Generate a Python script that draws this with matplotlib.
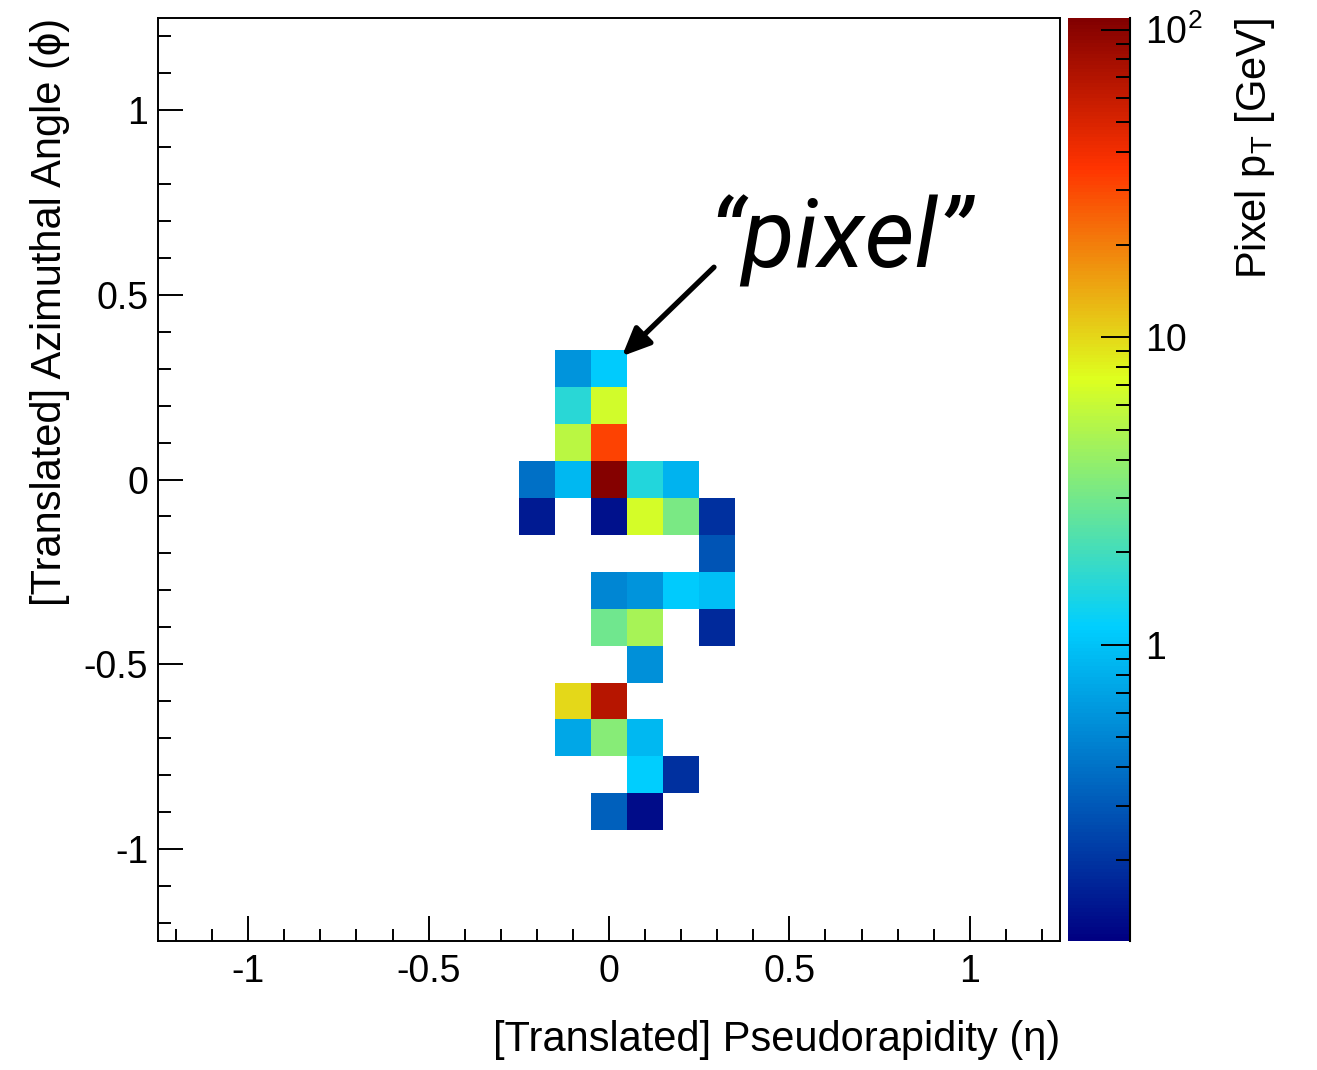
import numpy as np
import matplotlib
matplotlib.use("Agg")
import matplotlib.pyplot as plt
from matplotlib.colors import LogNorm, LinearSegmentedColormap
from matplotlib.ticker import MultipleLocator, FixedLocator, NullFormatter

plt.rcParams['font.family'] = ['Liberation Sans', 'DejaVu Sans']
plt.rcParams['mathtext.fontset'] = 'custom'
plt.rcParams['mathtext.rm'] = 'Liberation Sans'
plt.rcParams['mathtext.it'] = 'Liberation Sans:italic'

# ---- data: jet-image pixels (eta, phi centre, pT in GeV) ----
cell_eta = [-0.1, 0.0,
            -0.1, 0.0,
            -0.1, 0.0,
            -0.2, -0.1, 0.0, 0.1, 0.2,
            -0.2, 0.0, 0.1, 0.2, 0.3,
            0.3,
            0.0, 0.1, 0.2, 0.3,
            0.0, 0.1, 0.3,
            0.1,
            -0.1, 0.0,
            -0.1, 0.0, 0.1,
            0.1, 0.2,
            0.0, 0.1]
cell_phi = [0.3, 0.3,
            0.2, 0.2,
            0.1, 0.1,
            0.0, 0.0, 0.0, 0.0, 0.0,
            -0.1, -0.1, -0.1, -0.1, -0.1,
            -0.2,
            -0.3, -0.3, -0.3, -0.3,
            -0.4, -0.4, -0.4,
            -0.5,
            -0.6, -0.6,
            -0.7, -0.7, -0.7,
            -0.8, -0.8,
            -0.9, -0.9]
cell_pt = [0.59, 1.11,
           1.61, 6.6,
           5.5, 31.6,
           0.39, 0.88, 104.0, 1.51, 0.85,
           0.15, 0.133, 6.8, 3.2, 0.19,
           0.285,
           0.51, 0.59, 1.11, 0.96,
           2.95, 4.7, 0.175,
           0.56,
           9.8, 68.0,
           0.74, 3.55, 0.88,
           1.13, 0.19,
           0.325, 0.128]

bin_edges = np.round(np.arange(-1.25, 1.2501, 0.1), 3)
pt_min, pt_max = 0.109, 109.0

# ROOT-style rainbow palette
stops = [0.00, 0.34, 0.61, 0.84, 1.00]
reds = [0.00, 0.00, 0.87, 1.00, 0.51]
greens = [0.00, 0.81, 1.00, 0.20, 0.00]
blues = [0.51, 1.00, 0.12, 0.00, 0.00]
cmap = LinearSegmentedColormap.from_list(
    'root_rainbow', list(zip(stops, zip(reds, greens, blues))), N=255)

H, xe, ye = np.histogram2d(np.array(cell_eta), np.array(cell_phi),
                           bins=[bin_edges, bin_edges], weights=np.array(cell_pt))
H = np.ma.masked_where(H <= 0, H)

W, Hh = 1317, 1070
fig = plt.figure(figsize=(W / 100, Hh / 100), dpi=100)
ax = fig.add_axes([158 / W, 1 - 941 / Hh, (1060 - 158) / W, (941 - 18) / Hh])
cax = fig.add_axes([1068 / W, 1 - 941 / Hh, (1130 - 1068) / W, (941 - 18) / Hh])

mesh = ax.pcolormesh(xe, ye, H.T, cmap=cmap, norm=LogNorm(vmin=pt_min, vmax=pt_max))
ax.set_xlim(-1.25, 1.25)
ax.set_ylim(-1.25, 1.25)

fs_tick = 27
fs_title = 30
ax.xaxis.set_minor_locator(MultipleLocator(0.1))
ax.yaxis.set_minor_locator(MultipleLocator(0.1))
ax.set_xticks([-1, -0.5, 0, 0.5, 1])
ax.set_xticklabels(['-1', '-0.5', '0', '0.5', '1'])
ax.set_yticks([-1, -0.5, 0, 0.5, 1])
ax.set_yticklabels(['-1', '-0.5', '0', '0.5', '1'])
ax.tick_params(which='both', direction='in', top=False, right=False, labelsize=fs_tick, width=1.4)
ax.tick_params(which='major', length=18)
ax.tick_params(which='minor', length=9)
ax.tick_params(axis='x', pad=9)
ax.tick_params(axis='y', pad=7)
for s in ax.spines.values():
    s.set_linewidth(1.4)

ax.set_xlabel('[Translated] Pseudorapidity (η)', fontsize=fs_title, loc='right')
ax.xaxis.set_label_coords(1.0, -(1020 - 941) / 923)
ax.set_ylabel('[Translated] Azimuthal Angle (ϕ)', fontsize=fs_title, loc='top')
ax.yaxis.set_label_coords((70 - 158) / 902, 1.0)

cb = fig.colorbar(mesh, cax=cax)
cb.outline.set_visible(False)
cax.plot([1, 1], [0, 1], transform=cax.transAxes, color='k', lw=1.5, clip_on=False)
cax.yaxis.set_major_locator(FixedLocator([1, 10, 100]))
cax.set_yticklabels(['1', '10', r'10$^{2}$'])
minors = [m * 10.0 ** e for e in (-1, 0, 1) for m in range(2, 10)]
cax.yaxis.set_minor_locator(FixedLocator(minors))
cax.yaxis.set_minor_formatter(NullFormatter())
cax.tick_params(which='both', direction='in', right=True, left=False, labelsize=fs_tick, width=1.4, pad=11)
cax.tick_params(which='major', length=21)
cax.tick_params(which='minor', length=10)
cb.set_label(r'Pixel p$_{\mathrm{T}}$ [GeV]', fontsize=fs_title, loc='top')
cax.yaxis.set_label_coords((1233 - 1068) / 62, 1.0)

ax.annotate('', xy=(0.036, 0.334), xytext=(0.291, 0.575),
            arrowprops=dict(arrowstyle='-|>,head_length=1.7,head_width=0.75', lw=3.8, color='k',
                            shrinkA=0, shrinkB=0))
ax.text(0.275, 0.573, '“pixel”', fontsize=70, style='italic', fontweight='normal',
        family=['Roboto', 'DejaVu Sans'], ha='left', va='baseline')

fig.savefig('out.png', dpi=100)
